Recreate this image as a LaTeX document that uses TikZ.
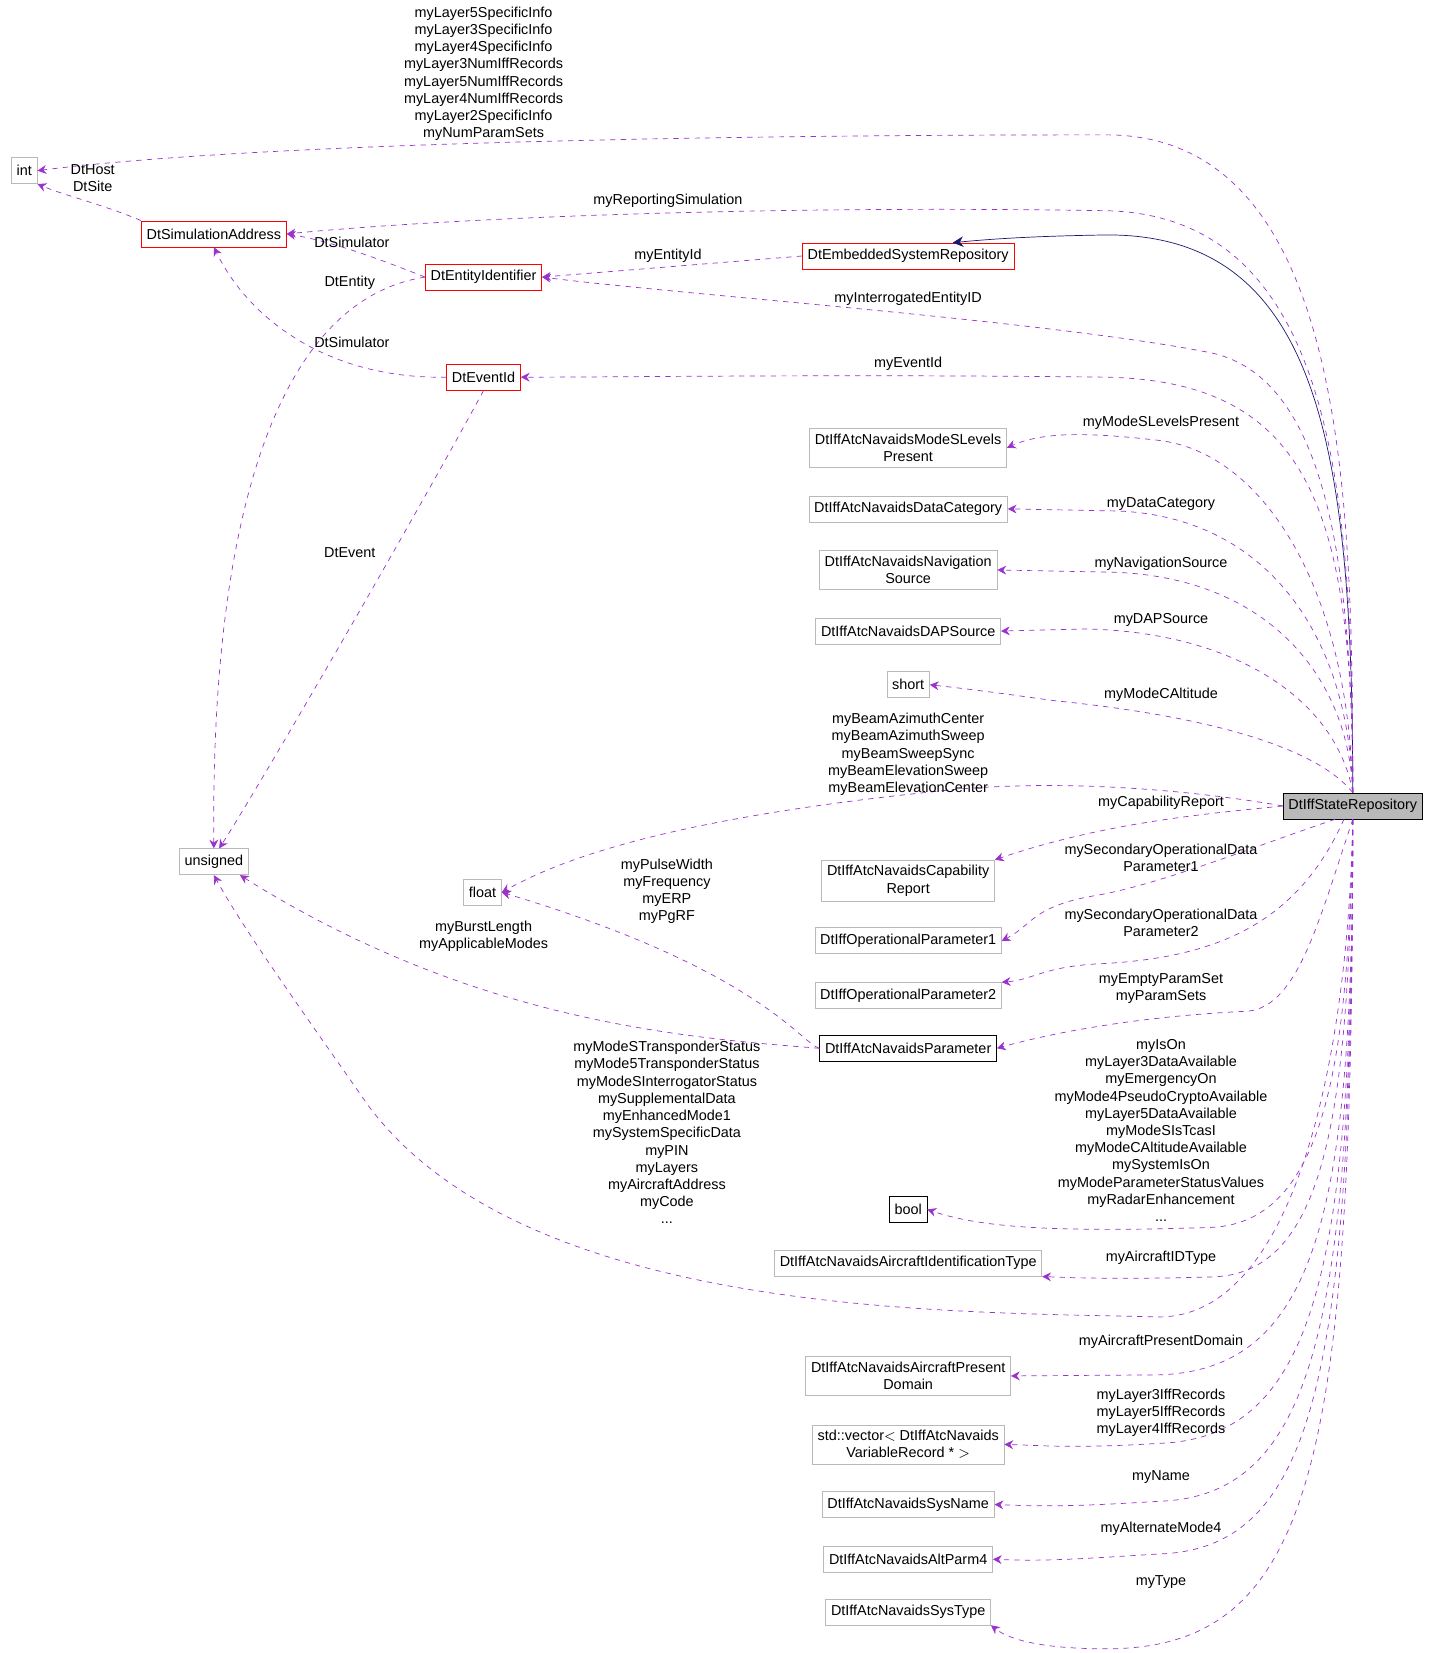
\documentclass[tikz,border=0pt]{standalone}
\usepackage{fontspec}
\setmainfont{Liberation Sans}
\usetikzlibrary{arrows.meta}
\definecolor{dep}{HTML}{9A32CD}
\definecolor{inh}{HTML}{191970}
\tikzset{
  cls/.style={draw=gray!55, fill=white, inner sep=3pt, minimum height=0.52cm, align=center},
  red cls/.style={cls, draw=red},
  blk cls/.style={cls, draw=black},
  uses/.style={draw=dep, dashed, thin, -{Stealth[length=5pt,width=5pt]}},
  lbl/.style={align=center, inner sep=0pt}
}
\begin{document}
\begin{tikzpicture}[x=0.02108cm,y=-0.02108cm,font=\fontsize{8.2}{9.8}\selectfont]
    \useasboundingbox (0,0) rectangle (1359,1569);
    %nodes
    \node[cls] (int) at (23,162) {int};
    \node[red cls] (simaddr) at (203,222) {DtSimulationAddress};
    \node[red cls] (entid) at (459,263) {DtEntityIdentifier};
    \node[red cls] (embrep) at (862,243) {DtEmbeddedSystemRepository};
    \node[red cls] (evid) at (459,358) {DtEventId};
    \node[cls] (modes) at (862,425) {DtIffAtcNavaidsModeSLevels\\Present};
    \node[cls] (datacat) at (862,483) {DtIffAtcNavaidsDataCategory};
    \node[cls] (navsrc) at (862,541) {DtIffAtcNavaidsNavigation\\Source};
    \node[cls] (dapsrc) at (862,599) {DtIffAtcNavaidsDAPSource};
    \node[cls] (short) at (862,650) {short};
    \node[blk cls, fill=gray!55] (rep) at (1284,765) {DtIffStateRepository};
    \node[cls] (uns) at (203,818) {unsigned};
    \node[cls] (float) at (458,847) {float};
    \node[cls] (capab) at (862,836) {DtIffAtcNavaidsCapability\\Report};
    \node[cls] (op1) at (862,893) {DtIffOperationalParameter1};
    \node[cls] (op2) at (862,945) {DtIffOperationalParameter2};
    \node[blk cls] (param) at (862,995) {DtIffAtcNavaidsParameter};
    \node[blk cls] (bool) at (862,1148) {bool};
    \node[cls] (acid) at (862,1199) {DtIffAtcNavaidsAircraftIdentificationType};
    \node[cls] (acpres) at (862,1306) {DtIffAtcNavaidsAircraftPresent\\Domain};
    \node[cls] (vrec) at (862,1371) {std::vector$<$ DtIffAtcNavaids\\VariableRecord * $>$};
    \node[cls] (sysname) at (862,1428) {DtIffAtcNavaidsSysName};
    \node[cls] (altparm) at (862,1480) {DtIffAtcNavaidsAltParm4};
    \node[cls] (systype) at (862,1530) {DtIffAtcNavaidsSysType};

    %edges
    \draw[inh, -{Stealth[length=6pt,width=6pt]}] (rep.north) .. controls (1284,420) and (1250,222) .. (1050,223) .. controls (990,224) and (950,226) .. ([xshift=-35pt]embrep.north east);
    \draw[uses] (rep.north) .. controls (1284,480) and (1280,128) .. (1050,128) .. controls (700,128) and (250,135) .. (int.east);
    \draw[uses] (rep.north) .. controls (1284,480) and (1270,205) .. (1050,200) .. controls (750,195) and (450,205) .. (simaddr.east);
    \draw[uses] (rep.north) .. controls (1284,480) and (1240,355) .. (1150,335) .. controls (1000,305) and (650,280) .. (entid.east);
    \draw[uses] (rep.north) .. controls (1284,480) and (1240,362) .. (1050,358) .. controls (800,355) and (600,358) .. (evid.east);
    \draw[uses] (rep.north) .. controls (1280,560) and (1200,430) .. (1100,418) .. controls (1030,410) and (990,410) .. (modes.east);
    \draw[uses] (rep.north) .. controls (1280,600) and (1200,490) .. (1060,485) -- (datacat.east);
    \draw[uses] (rep.north) .. controls (1280,640) and (1200,545) .. (1050,543) -- (navsrc.east);
    \draw[uses] (rep.north) .. controls (1270,670) and (1180,600) .. (1030,597) -- (dapsrc.east);
    \draw[uses] (rep.north) .. controls (1250,710) and (1150,680) .. (1000,665) .. controls (950,658) and (920,654) .. (short.east);
    \draw[uses] (rep.west) .. controls (1120,748) and (1000,740) .. (900,750) .. controls (700,770) and (560,800) .. (float.east);
    \draw[uses] (rep.west) .. controls (1150,772) and (1050,780) .. (capab.north east);
    \draw[uses] ([xshift=-10pt]rep.south) .. controls (1200,800) and (1100,840) .. (1040,850) .. controls (980,860) and (980,878) .. (op1.east);
    \draw[uses] ([xshift=-5pt]rep.south) .. controls (1230,880) and (1150,910) .. (1040,915) .. controls (990,918) and (980,930) .. (op2.north east);
    \draw[uses] (rep.south) .. controls (1250,880) and (1230,960) .. (1180,960) .. controls (1080,965) and (1000,980) .. (param.east);
    \draw[uses] (rep.south) .. controls (1280,1000) and (1260,1160) .. (1150,1165) .. controls (1000,1170) and (930,1165) .. (bool.east);
    \draw[uses] (rep.south) .. controls (1280,1050) and (1260,1210) .. (1150,1212) .. controls (1050,1215) and (1000,1212) .. (acid.south east);
    \draw[uses] (rep.south) .. controls (1280,1000) and (1230,1250) .. (1100,1250) .. controls (900,1245) and (500,1250) .. (350,1050) .. controls (280,950) and (230,880) .. (uns.south);
    \draw[uses] (rep.south) .. controls (1284,1150) and (1250,1300) .. (1100,1305) -- (acpres.east);
    \draw[uses] (rep.south) .. controls (1284,1200) and (1250,1365) .. (1100,1370) .. controls (1020,1375) and (990,1372) .. (vrec.east);
    \draw[uses] (rep.south) .. controls (1284,1250) and (1250,1420) .. (1100,1425) .. controls (1020,1430) and (990,1430) .. (sysname.east);
    \draw[uses] (rep.south) .. controls (1284,1300) and (1250,1470) .. (1100,1475) .. controls (1020,1480) and (990,1482) .. (altparm.east);
    \draw[uses] (rep.south) .. controls (1284,1380) and (1250,1565) .. (1050,1565) .. controls (970,1565) and (950,1550) .. (systype.south east);
    \draw[uses] (simaddr.north west) .. controls (100,195) and (60,185) .. (int.south east);
    \draw[uses] (entid.west) .. controls (370,250) and (320,230) .. (simaddr.east);
    \draw[uses] (evid.west) .. controls (320,360) and (240,310) .. (simaddr.south);
    \draw[uses] (embrep.west) -- (entid.east);
    \draw[uses] (entid.west) .. controls (260,285) and (200,500) .. (uns.north);
    \draw[uses] (evid.south) .. controls (400,480) and (250,740) .. ([xshift=3pt]uns.north);
    \draw[uses] (param.west) .. controls (650,985) and (450,970) .. ([xshift=-5pt]uns.south east);
    \draw[uses] (param.west) .. controls (760,990) and (720,920) .. (float.east);

    %labels
    \node[lbl] at (459,70) {myLayer5SpecificInfo\\myLayer3SpecificInfo\\myLayer4SpecificInfo\\myLayer3NumIffRecords\\myLayer5NumIffRecords\\myLayer4NumIffRecords\\myLayer2SpecificInfo\\myNumParamSets};
    \node[lbl] at (88,169) {DtHost\\DtSite};
    \node[lbl] at (634,191) {myReportingSimulation};
    \node[lbl] at (334,230) {DtSimulator};
    \node[lbl] at (634,243) {myEntityId};
    \node[lbl] at (332,268) {DtEntity};
    \node[lbl] at (862,284) {myInterrogatedEntityID};
    \node[lbl] at (334,325) {DtSimulator};
    \node[lbl] at (862,345) {myEventId};
    \node[lbl] at (332,525) {DtEvent};
    \node[lbl] at (1102,401) {myModeSLevelsPresent};
    \node[lbl] at (1102,478) {myDataCategory};
    \node[lbl] at (1102,535) {myNavigationSource};
    \node[lbl] at (1102,588) {myDAPSource};
    \node[lbl] at (1102,659) {myModeCAltitude};
    \node[lbl] at (862,716) {myBeamAzimuthCenter\\myBeamAzimuthSweep\\myBeamSweepSync\\myBeamElevationSweep\\myBeamElevationCenter};
    \node[lbl] at (1102,762) {myCapabilityReport};
    \node[lbl] at (1102,814) {mySecondaryOperationalData\\Parameter1};
    \node[lbl] at (1102,876) {mySecondaryOperationalData\\Parameter2};
    \node[lbl] at (1102,938) {myEmptyParamSet\\myParamSets};
    \node[lbl] at (633,846) {myPulseWidth\\myFrequency\\myERP\\myPgRF};
    \node[lbl] at (459,889) {myBurstLength\\myApplicableModes};
    \node[lbl] at (1102,1073) {myIsOn\\myLayer3DataAvailable\\myEmergencyOn\\myMode4PseudoCryptoAvailable\\myLayer5DataAvailable\\myModeSIsTcasI\\myModeCAltitudeAvailable\\mySystemIsOn\\myModeParameterStatusValues\\myRadarEnhancement\\...};
    \node[lbl] at (633,1075) {myModeSTransponderStatus\\myMode5TransponderStatus\\myModeSInterrogatorStatus\\mySupplementalData\\myEnhancedMode1\\mySystemSpecificData\\myPIN\\myLayers\\myAircraftAddress\\myCode\\...};
    \node[lbl] at (1102,1194) {myAircraftIDType};
    \node[lbl] at (1102,1274) {myAircraftPresentDomain};
    \node[lbl] at (1102,1341) {myLayer3IffRecords\\myLayer5IffRecords\\myLayer4IffRecords};
    \node[lbl] at (1102,1402) {myName};
    \node[lbl] at (1102,1451) {myAlternateMode4};
    \node[lbl] at (1102,1502) {myType};
\end{tikzpicture}
\end{document}
